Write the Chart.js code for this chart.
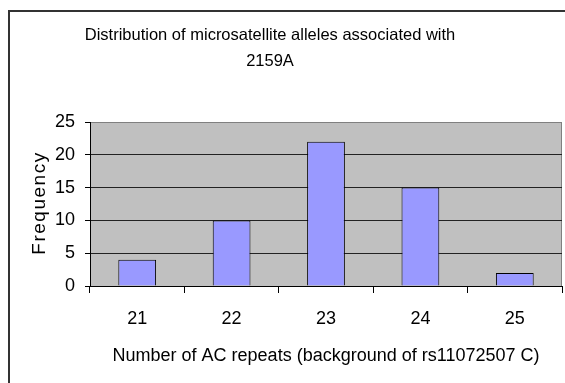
<!DOCTYPE html>
<html>
<head>
<meta charset="utf-8">
<script src="https://cdn.jsdelivr.net/npm/chart.js@4/dist/chart.umd.min.js"></script>
<style>
  html, body { margin: 0; padding: 0; background: #fff; }
  #wrap { position: relative; width: 565px; height: 383px; overflow: hidden; }
  #frame {
    position: absolute; left: 8px; top: 10px; width: 600px; height: 400px;
    border-left: 2px solid #333; border-top: 2px solid #333;
  }
  #alleleChart { position: absolute; left: 0; top: 0; }
</style>
</head>
<body>
<div id="wrap">
  <div id="frame"></div>
  <canvas id="alleleChart" width="565" height="383"></canvas>
</div>
<script>
const repeats = ["21", "22", "23", "24", "25"];
const frequency = [4, 10, 22, 15, 2];
const titleLines = ["Distribution of microsatellite alleles associated with", "2159A"];
const yTitle = "Frequency";

const FONT = "'Liberation Sans', Arial, sans-serif";

// grey plot background with a thin grey edge on top and right
const plotBackground = {
  id: "plotBackground",
  beforeDraw(chart) {
    const { ctx, chartArea: a } = chart;
    ctx.save();
    ctx.fillStyle = "#c0c0c0";
    ctx.fillRect(a.left, a.top, a.right - a.left, a.bottom - a.top);
    ctx.strokeStyle = "#808080";
    ctx.lineWidth = 1;
    ctx.beginPath();
    ctx.moveTo(a.left, a.top + 0.5);
    ctx.lineTo(a.right - 0.5, a.top + 0.5);
    ctx.lineTo(a.right - 0.5, a.bottom);
    ctx.stroke();
    ctx.restore();
  }
};

// two-line chart title centred on the frame, plus the spaced-out y title
const frameText = {
  id: "frameText",
  afterDraw(chart) {
    const { ctx, chartArea: a } = chart;
    ctx.save();
    ctx.fillStyle = "#000";
    ctx.font = "16.5px " + FONT;
    ctx.textAlign = "center";
    ctx.textBaseline = "alphabetic";
    ctx.fillText(titleLines[0], 270, 40);
    ctx.fillText(titleLines[1], 270, 66);

    ctx.font = "19px " + FONT;
    ctx.letterSpacing = "1.5px";
    ctx.textBaseline = "middle";
    ctx.translate(40, (a.top + a.bottom) / 2);
    ctx.rotate(-Math.PI / 2);
    ctx.fillText(yTitle, 1, 0);
    ctx.restore();
  }
};

const ctx = document.getElementById("alleleChart").getContext("2d");
new Chart(ctx, {
  type: "bar",
  data: {
    labels: repeats,
    datasets: [
      {
        label: yTitle,
        data: frequency,
        backgroundColor: "#9999ff",
        borderColor: "#000",
        borderWidth: 1,
        barPercentage: 0.4,
        categoryPercentage: 1.0,
      },
    ],
  },
  options: {
    responsive: false,
    animation: false,
    layout: { padding: { top: 122, right: 3, left: 0, bottom: 0 } },
    plugins: {
      legend: { display: false },
      tooltip: { enabled: false },
    },
    scales: {
      x: {
        offset: true,
        grid: {
          offset: true,
          drawOnChartArea: false,
          drawTicks: true,
          tickLength: 7,
          color: "#000",
        },
        border: { color: "#000", width: 1 },
        ticks: { color: "#000", font: { family: FONT, size: 18 }, padding: 15 },
        title: {
          display: true,
          text: "Number of AC repeats (background of rs11072507 C)",
          color: "#000",
          font: { family: FONT, size: 18 },
          padding: { top: 0, bottom: 16 },
        },
        afterFit(scale) { scale.height = 97; },
      },
      y: {
        min: 0,
        max: 25,
        ticks: { stepSize: 5, color: "#000", font: { family: FONT, size: 18 }, padding: 10 },
        grid: {
          color: (c) => (c.tick && c.tick.value === 25 ? "#808080" : "#222"),
          tickColor: "#000",
          tickLength: 5,
        },
        border: { color: "#000", width: 1 },
        afterFit(scale) { scale.width = 90; },
      },
    },
  },
  plugins: [plotBackground, frameText],
});
</script>
</body>
</html>
